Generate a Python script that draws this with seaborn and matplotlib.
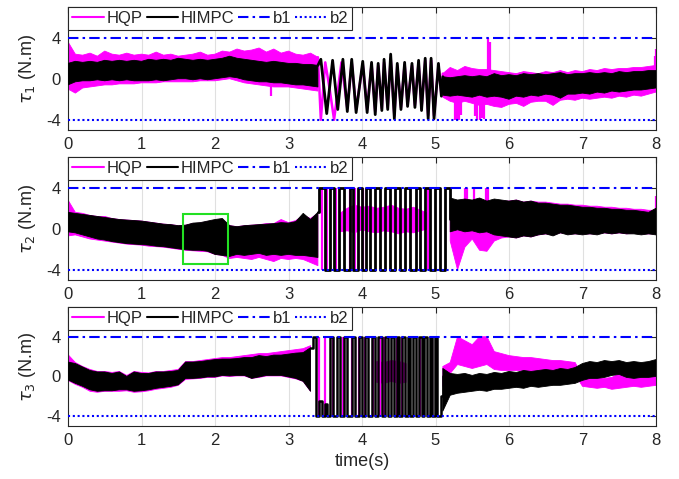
import numpy as np
import matplotlib
matplotlib.use("Agg")
import matplotlib.pyplot as plt
import seaborn as sns
from matplotlib.lines import Line2D
from matplotlib.patches import Rectangle

N = None
# sample times of the envelope readings (every 0.1 s)
t_env = np.linspace(0, 8, 81)

# ---------------- tau_1 ----------------
q1_hi = [3.6,2.4,2.3,2.5,2.2,2.7,2.4,2.3,2.5,2.3,
         2.4,2.3,2.6,2.3,2.4,2.2,2.3,2.4,2.6,2.3,
         2.4,2.7,2.6,2.9,2.7,2.8,3.0,2.6,2.9,2.5,
         2.7,2.4,2.3,2.5,2.1] + [N]*16 + \
        [0.5,1.1,0.8,1.2,1.0,0.9,0.9,0.8,0.7,0.6,
         0.5,0.7,0.6,0.5,0.7,0.6,0.8,0.6,0.8,0.7,
         0.9,0.8,1.0,0.9,1.0,1.0,1.1,1.1,1.2,1.3]
q1_lo = [-1.0,-1.4,-0.9,-0.8,-0.7,-0.6,-0.6,-0.5,-0.5,-0.5,
         -0.4,-0.4,-0.4,-0.3,-0.3,-0.3,-0.3,-0.3,-0.2,-0.2,
         -0.2,-0.1,0.0,-0.2,-0.4,-0.5,-0.6,-0.7,-0.8,-0.8,
         -0.8,-0.9,-1.0,-1.1,-1.2] + [N]*16 + \
        [-1.8,-2.2,-2.4,-2.2,-2.4,-2.6,-2.5,-2.7,-2.8,-2.5,
         -2.4,-2.7,-2.3,-2.2,-2.2,-2.6,-2.1,-2.0,-2.1,-1.9,
         -2.0,-1.9,-1.8,-1.9,-1.7,-1.8,-1.6,-1.7,-1.5,-1.3]
h1_hi = [1.5,1.7,1.6,1.7,1.6,1.8,1.7,1.8,1.7,1.8,
         1.7,1.9,1.8,1.9,1.8,2.0,1.9,1.8,1.9,1.8,
         1.9,2.0,2.2,2.0,1.9,1.8,1.7,1.6,1.7,1.6,
         1.5,1.5,1.4,1.4,1.3] + [N]*16 + \
        [0.2,0.1,0.2,0.3,0.2,0.3,0.2,0.5,0.3,0.4,
         0.3,0.5,0.4,0.5,0.4,0.5,0.6,0.4,0.5,0.5,
         0.6,0.5,0.6,0.5,0.7,0.6,0.7,0.7,0.8,0.8]
h1_lo = [-0.6,-0.3,-0.2,-0.2,-0.1,-0.2,-0.1,-0.2,-0.1,-0.2,
         -0.2,-0.2,-0.1,-0.2,-0.1,0.0,0.0,-0.1,0.0,-0.1,
         0.0,0.1,0.2,0.1,-0.1,-0.2,-0.3,-0.3,-0.4,-0.4,
         -0.5,-0.6,-0.6,-0.7,-0.8] + [N]*16 + \
        [-1.6,-1.7,-1.6,-1.7,-1.8,-1.6,-1.8,-1.7,-1.8,-2.0,
         -1.7,-1.8,-1.6,-1.7,-1.5,-1.6,-1.9,-1.5,-1.5,-1.4,
         -1.5,-1.3,-1.4,-1.2,-1.3,-1.2,-1.1,-1.1,-1.0,-0.9]
h1_osc_t = [3.40,3.44,3.52,3.60,3.67,3.74,3.80,3.86,3.92,4.01,
            4.07,4.13,4.18,4.22,4.27,4.30,4.35,4.39,4.44,4.48,
            4.53,4.58,4.62,4.68,4.72,4.77,4.81,4.86,4.90,4.94,
            4.98,5.04,5.08,5.10]
h1_osc_y = [1.3,1.9,-3.4,1.8,-3.0,1.9,-3.2,1.9,-3.3,1.7,
            -3.3,1.6,-3.5,1.5,-3.1,1.9,-3.0,2.4,-3.9,1.5,
            -3.0,1.6,-2.7,1.5,-2.8,1.8,-3.1,2.0,-3.9,2.0,
            -3.9,1.5,-1.7,0.2]
q1_osc_t = [3.40,3.44,3.50,3.56,3.62,3.72,3.80,3.86,3.92,4.01,
            4.07,4.13,4.18,4.22,4.27,4.30,4.35,4.39,4.44,4.48,
            4.53,4.58,4.62,4.68,4.72,4.77,4.81,4.86,4.90,4.94,
            4.98,5.04,5.08,5.10]
q1_osc_y = [2.1,-4.0,1.6,-1.0,-4.0,1.6,-2.9,1.6,-3.0,1.4,
            -3.0,1.4,-3.2,1.3,-2.9,1.6,-2.8,2.0,-3.6,1.3,
            -2.8,1.4,-2.5,1.3,-2.6,1.6,-2.9,1.8,-3.6,1.8,
            -3.6,1.3,-1.5,0.5]
q1_spk_t = [2.76, 5.26, 5.29, 5.32, 5.35, 5.54, 5.57, 5.60, 5.63, 5.66,
            5.71, 5.74, 7.98, 8.00]
q1_spk_lo = [-1.7, -4.0, -4.0, -4.0, -3.5, -3.6, -4.0, -4.0, -3.8, -3.9,
             0.0, 0.0, 0.5, 0.5]
q1_spk_hi = [-0.5, -1.5, -1.5, -1.5, -1.5, -1.5, -1.5, -1.5, -1.5, -1.5,
             4.0, 3.6, 2.2, 2.9]

# ---------------- tau_2 ----------------
q2_hi = [2.8,1.6,1.5,1.3,1.2,1.2,1.0,0.9,0.85,0.8,
         0.75,0.65,0.55,0.45,0.4,0.3,0.35,0.5,0.55,0.7,
         0.8,0.9,0.3,0.2,0.3,0.35,0.4,0.5,0.5,0.9,
         0.6,0.8,1.3,1.0,1.5] + \
        [N,N,1.5,2.0,2.3,2.1,2.2,2.0,2.1,2.3,2.0,1.9,2.1,1.8,1.5,N,N] + \
        [1.8,2.2,2.5,2.3,2.6,2.4,2.7,2.7,2.7,2.8,
         2.6,2.7,2.6,2.6,2.5,2.4,2.4,2.3,2.3,2.2,
         2.2,2.1,2.1,2.0,2.0,1.9,1.9,1.8,1.8]
q2_lo = [-0.7,-0.6,-0.8,-1.0,-1.1,-1.2,-1.3,-1.4,-1.5,-1.55,
         -1.6,-1.7,-1.75,-1.8,-1.9,-2.0,-2.1,-2.15,-2.2,-2.25,
         -2.5,-2.6,-2.9,-2.8,-2.9,-3.0,-2.8,-3.0,-3.2,-2.9,
         -3.0,-2.9,-3.0,-3.3,-3.6] + \
        [N,N,-0.3,-0.2,-0.4,-0.1,-0.3,-0.4,-0.2,-0.3,-0.5,-0.3,-0.4,-0.2,0.0,N,N] + \
        [-1.2,-4.0,-1.8,-1.0,-2.1,-2.2,-1.2,-0.9,-0.8,-0.9,
         -0.7,-0.8,-0.6,-0.5,-0.6,-0.4,-0.5,-0.5,-0.5,-0.5,
         -0.5,-0.4,-0.5,-0.4,-0.5,-0.4,-0.5,-0.5,-0.5]
h2_hi = [1.6,1.5,1.4,1.3,1.2,1.1,1.0,0.9,0.85,0.8,
         0.75,0.65,0.55,0.45,0.4,0.3,0.35,0.55,0.6,0.75,
         0.9,1.0,0.3,0.2,0.3,0.35,0.4,0.45,0.5,0.6,
         0.55,0.7,1.5,0.9,1.6] + [N]*17 + \
        [3.0,2.8,2.9,2.8,3.0,2.7,2.9,2.8,2.7,2.8,
         2.6,2.7,2.5,2.5,2.4,2.3,2.3,2.2,2.1,2.1,
         2.0,2.0,1.9,1.9,1.8,1.8,1.7,1.6,2.0]
h2_lo = [-0.3,-0.4,-0.6,-0.8,-1.0,-1.1,-1.25,-1.35,-1.45,-1.5,
         -1.55,-1.6,-1.7,-1.75,-1.85,-1.95,-2.05,-2.1,-2.1,-2.2,
         -2.5,-2.6,-2.7,-2.5,-2.6,-2.5,-2.4,-2.6,-2.5,-2.6,
         -2.5,-2.6,-2.6,-2.7,-2.8] + [N]*17 + \
        [-0.3,-0.1,-0.3,-0.2,-0.4,-0.3,-0.6,-0.7,-0.8,-0.9,
         -0.7,-0.8,-0.6,-0.5,-0.7,-0.4,-0.6,-0.5,-0.6,-0.5,
         -0.6,-0.4,-0.5,-0.4,-0.5,-0.5,-0.6,-0.5,-0.6]
h2_osc_t = [3.40,3.42,3.49,3.56,3.62,3.69,3.76,3.83,3.88,3.94,
            4.00,4.05,4.11,4.18,4.25,4.31,4.38,4.45,4.52,4.59,
            4.65,4.74,4.79,4.86,4.93,4.99,5.06,5.13,5.20]
h2_osc_y = [1.6,4,-4,4,-4,4,-4,4,-4,4,
            -4,4,-4,4,-4,4,-4,4,-4,4,
            -4,4,-4,4,-4,4,-4,4,1.0]
q2_spk_t = [3.45,3.52,3.64,3.83,3.91,4.02,4.90,5.40,5.43,5.52,5.69,5.72,8.00]
q2_spk_lo = [-4,-4,-4,-4,-4,-4,-4,2.5,2.5,2.5,2.5,2.5,1.0]
q2_spk_hi = [4,4,4,4,4,4,4,4,4,4,4,4,3.2]

# ---------------- tau_3 ----------------
q3_hi = [2.2,1.4,1.0,0.7,0.5,0.5,0.4,0.5,0.1,0.5,
         0.4,0.35,0.5,0.5,0.6,0.7,1.5,1.5,1.6,1.7,
         1.8,1.9,1.9,2.0,2.1,2.2,2.3,2.3,2.4,2.5,
         2.6,2.7,2.8,3.1] + \
        [N,N,N,N,N,N,N,N,1.5,1.4,1.6,1.5,1.3,N,N,N,N] + \
        [1.0,1.4,4.0,3.6,3.2,4.0,4.0,2.5,2.3,2.1,
         2.0,1.9,1.9,1.8,1.7,1.6,1.6,1.5,1.4,0.0,
         -0.1,-0.1,-0.2,-0.1,0.3,-0.1,-0.1,-0.1,-0.1,0.0]
q3_lo = [-0.4,-0.8,-1.1,-1.5,-1.6,-1.5,-1.5,-1.5,-1.45,-1.6,
         -1.55,-1.45,-1.3,-1.2,-1.1,-0.9,-0.3,-0.25,-0.2,-0.1,
         -0.1,0.05,0.0,0.05,0.05,-0.2,-0.1,0.05,0.05,0.05,
         -0.1,-0.25,-0.5,-1.5] + \
        [N,N,N,N,N,N,N,N,-0.6,-0.7,-0.5,-0.7,-0.6,N,N,N,N] + \
        [-1.0,0.3,1.2,1.0,0.8,1.0,1.2,0.7,0.6,0.6,
         0.6,0.6,0.5,0.5,0.5,0.4,0.4,0.3,0.2,-1.0,
         -1.1,-1.2,-1.1,-1.3,-1.2,-1.1,-1.0,-1.1,-1.0,-0.9]
h3_hi = [1.45,1.3,0.95,0.6,0.45,0.45,0.3,0.45,0.0,0.45,
         0.3,0.3,0.45,0.45,0.5,0.6,1.45,1.45,1.5,1.6,
         1.7,1.75,1.75,1.8,1.9,1.9,2.1,2.0,2.15,2.15,
         2.25,2.35,2.4,2.9] + [N]*17 + \
        [0.8,0.3,0.2,0.3,0.1,0.3,0.2,0.4,0.3,0.5,
         0.4,0.6,0.5,0.6,0.7,0.6,0.8,0.7,0.9,1.3,
         1.5,1.4,1.6,1.5,1.6,1.4,1.5,1.4,1.5,1.7]
h3_lo = [-0.35,-0.7,-1.0,-1.35,-1.5,-1.45,-1.45,-1.35,-1.35,-1.5,
         -1.45,-1.35,-1.2,-1.1,-1.0,-0.85,-0.2,-0.2,-0.15,-0.05,
         -0.05,0.1,0.05,0.1,0.1,-0.2,-0.05,0.1,0.1,0.1,
         -0.05,-0.2,-0.5,-1.5] + [N]*17 + \
        [-3.5,-1.9,-1.7,-1.6,-1.5,-1.4,-1.5,-1.3,-1.3,-1.2,
         -1.1,-1.2,-1.0,-1.1,-1.0,-0.9,-0.9,-0.8,-0.7,-0.4,
         -0.2,-0.2,-0.1,0.1,0.2,-0.1,-0.2,-0.1,-0.1,0.0]
h3_osc_t = [3.30,3.34,3.37,3.42,3.45,3.50,3.53,3.57,3.60,3.66,
            3.70,3.76,3.80,3.86,3.91,3.96,4.00,4.04,4.08,4.13,
            4.18,4.22,4.27,4.31,4.36,4.40,4.43,4.47,4.51,4.55,
            4.58,4.62,4.65,4.69,4.73,4.77,4.81,4.85,4.88,4.92,
            4.95,4.99,5.02,5.08,5.10]
h3_osc_y = [2.9,4,-4,-2.5,-4,-2.8,-4,4,-4,4,
            -4,4,-4,4,-4,4,-4,4,-4,4,
            -4,4,-4,4,-4,4,-4,4,-4,4,
            -4,4,-4,4,-4,4,-4,4,-4,4,
            -4,4,-4,-2.0,0.0]
q3_spk_t = [3.42,3.49,3.60,3.74,3.86,3.96,4.04,4.15,4.24,4.30,4.47,4.54,4.79,4.95]
q3_spk_lo = [-4]*14
q3_spk_hi = [4]*14

b1_level, b2_level = 4, -4
x_ticks = [0, 1, 2, 3, 4, 5, 6, 7, 8]
y_ticks = [-4, 0, 4]
labels = ["HQP", "HIMPC", "b1", "b2"]

# ---------------- style ----------------
sns.set_theme(style="white")
plt.rcParams["font.family"] = ["Liberation Sans", "DejaVu Sans"]
plt.rcParams["axes.unicode_minus"] = False
plt.rcParams["mathtext.fontset"] = "dejavusans"

MAG = "#ff00ff"
BLK = "#000000"
BLU = "#0000ff"
DARK = "#262626"

W, H = 679, 479
fig = plt.figure(figsize=(W/100, H/100), dpi=100)
boxes = [(68, 7, 656, 130), (68, 157, 656, 280), (68, 307, 656, 426)]
axes = [fig.add_axes([l/W, 1-b/H, (r-l)/W, (b-t)/H]) for (l, t, r, b) in boxes]

panels = [
    dict(q_hi=q1_hi, q_lo=q1_lo, h_hi=h1_hi, h_lo=h1_lo,
         h_osc=(h1_osc_t, h1_osc_y, "default", 2.0), q_osc=(q1_osc_t, q1_osc_y),
         q_spk=(q1_spk_t, q1_spk_lo, q1_spk_hi), name=r"$\tau_1$ (N.m)"),
    dict(q_hi=q2_hi, q_lo=q2_lo, h_hi=h2_hi, h_lo=h2_lo,
         h_osc=(h2_osc_t, h2_osc_y, "steps-post", 2.0), q_osc=None,
         q_spk=(q2_spk_t, q2_spk_lo, q2_spk_hi), name=r"$\tau_2$ (N.m)"),
    dict(q_hi=q3_hi, q_lo=q3_lo, h_hi=h3_hi, h_lo=h3_lo,
         h_osc=(h3_osc_t, h3_osc_y, "steps-post", 1.8), q_osc=None,
         q_spk=(q3_spk_t, q3_spk_lo, q3_spk_hi), name=r"$\tau_3$ (N.m)"),
]

for ax, p in zip(axes, panels):
    qh = np.array(p["q_hi"], dtype=float); ql = np.array(p["q_lo"], dtype=float)
    hh = np.array(p["h_hi"], dtype=float); hl = np.array(p["h_lo"], dtype=float)
    # HQP
    ax.fill_between(t_env, ql, qh, color=MAG, lw=0.6, zorder=2)
    if p["q_osc"] is not None:
        sns.lineplot(x=p["q_osc"][0], y=p["q_osc"][1], ax=ax, color=MAG, lw=1.8,
                     estimator=None, sort=False, zorder=2)
    st, slo, shi = p["q_spk"]
    ax.vlines(st, slo, shi, color=MAG, lw=1.6, zorder=2)
    # HIMPC
    ax.fill_between(t_env, hl, hh, color=BLK, lw=0.6, zorder=3)
    ot, oy, ds, olw = p["h_osc"]
    sns.lineplot(x=ot, y=oy, ax=ax, color=BLK, lw=olw, estimator=None,
                 sort=False, drawstyle=ds, zorder=3)
    # bounds
    sns.lineplot(x=[0, 8], y=[b1_level, b1_level], ax=ax, color=BLU, lw=1.5,
                 zorder=4).lines[-1].set_dashes([5, 2, 1.2, 2])
    sns.lineplot(x=[0, 8], y=[b2_level, b2_level], ax=ax, color=BLU, lw=1.5,
                 zorder=4).lines[-1].set_dashes([1, 1.3])

    ax.set_xlim(0, 8)
    ax.set_ylim(-5, 7)
    ax.set_xticks(x_ticks)
    ax.set_yticks(y_ticks)
    ax.set_xticklabels([str(v) for v in x_ticks])
    ax.set_yticklabels([str(v) for v in y_ticks])
    ax.tick_params(direction="in", length=4, width=0.8, top=True, right=True,
                   labelsize=12, colors=DARK, pad=5)
    ax.grid(axis="x", color="#e0e0e0", lw=0.8)
    ax.set_axisbelow(True)
    for s in ax.spines.values():
        s.set_color(DARK); s.set_linewidth(0.8)
    ax.set_ylabel(p["name"], fontsize=13, color=DARK, labelpad=6)
    ax.set_xlabel("")

    handles = [Line2D([], [], color=MAG, lw=1.5),
               Line2D([], [], color=BLK, lw=1.5),
               Line2D([], [], color=BLU, lw=1.5, dashes=[5, 2, 1.2, 2]),
               Line2D([], [], color=BLU, lw=1.5, dashes=[1, 1.3])]
    leg = ax.legend(handles, labels, loc="upper left", bbox_to_anchor=(0, 1),
                    ncol=4, fontsize=12, frameon=True, fancybox=False,
                    framealpha=1, edgecolor=DARK, borderaxespad=0,
                    handlelength=1.9, handletextpad=0.15, columnspacing=0.25,
                    borderpad=0.25, labelcolor=DARK)
    leg.get_frame().set_linewidth(0.8)
    leg.set_zorder(10)

axes[1].add_patch(Rectangle((1.56, -3.4), 0.62, 4.85, fill=False,
                            edgecolor="#22e022", lw=1.5, zorder=6))
axes[2].set_xlabel("time(s)", fontsize=13, color=DARK, labelpad=4)

fig.savefig("out.png", dpi=100)
